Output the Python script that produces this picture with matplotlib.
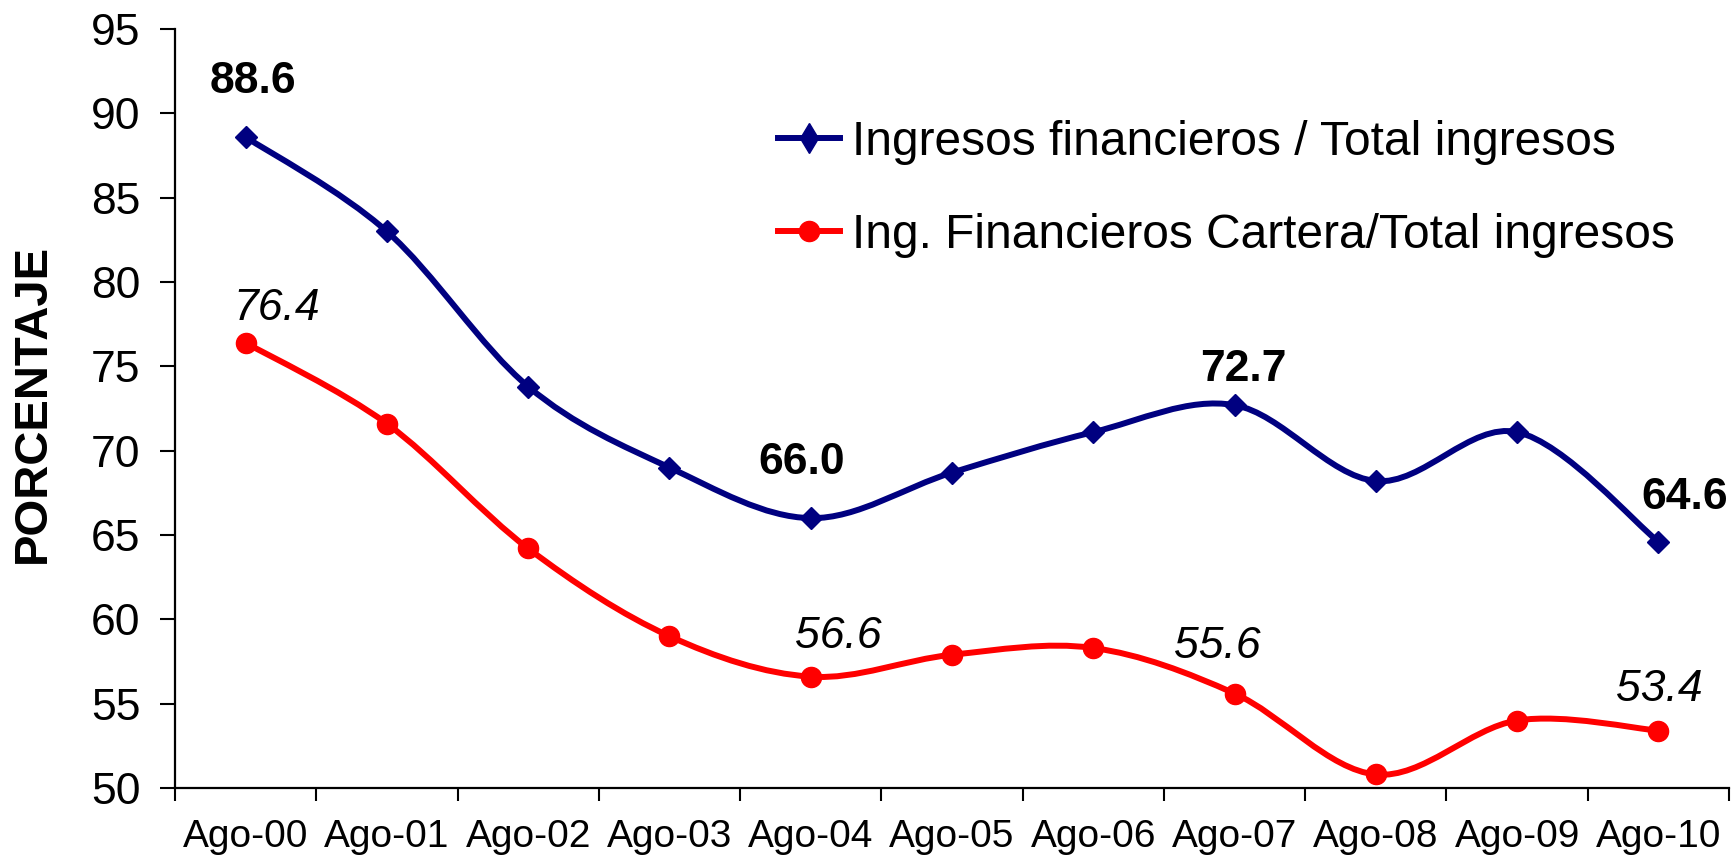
import numpy as np
import matplotlib
matplotlib.use('Agg')
import matplotlib.pyplot as plt
from matplotlib.path import Path
from matplotlib.patches import PathPatch
from matplotlib.lines import Line2D

plt.rcParams['font.family'] = ['Liberation Sans', 'DejaVu Sans']

# Dades llegides del gràfic
fechas = ['Ago-00', 'Ago-01', 'Ago-02', 'Ago-03', 'Ago-04', 'Ago-05',
          'Ago-06', 'Ago-07', 'Ago-08', 'Ago-09', 'Ago-10']
ing_fin = [88.6, 83.0, 73.8, 69.0, 66.0, 68.7, 71.1, 72.7, 68.2, 71.1, 64.6]
ing_cartera = [76.4, 71.6, 64.2, 59.0, 56.6, 57.9, 58.3, 55.6, 50.8, 54.0, 53.4]
nom_fin = 'Ingresos financieros / Total ingresos'
nom_cartera = 'Ing. Financieros Cartera/Total ingresos'
idx_etiquetes = [0, 4, 7, 10]

azul = '#000080'
rojo = '#FF0000'


def curva_suave(y):
    # corba Bezier tipus Excel que passa per tots els punts
    P = np.column_stack([np.arange(len(y)), np.asarray(y, float)])
    n = len(P)
    verts = [P[0]]
    for i in range(n - 1):
        p0 = P[max(i - 1, 0)]
        p1 = P[i]
        p2 = P[i + 1]
        p3 = P[min(i + 2, n - 1)]
        verts += [p1 + (p2 - p0) / 6, p2 - (p3 - p1) / 6, p2]
    codes = [Path.MOVETO] + [Path.CURVE4] * (3 * (n - 1))
    return Path(verts, codes)


fig = plt.figure(figsize=(17.36, 8.64), dpi=100)
ax = fig.add_axes([0.1008, 0.088, 0.8952, 0.8784])

x = np.arange(len(fechas))
ax.add_patch(PathPatch(curva_suave(ing_fin), fill=False, edgecolor=azul, lw=4.3, capstyle='round', joinstyle='round'))
ax.add_patch(PathPatch(curva_suave(ing_cartera), fill=False, edgecolor=rojo, lw=4.3, capstyle='round', joinstyle='round'))
ax.plot(x, ing_fin, ls='none', marker='D', ms=11, color=azul)
ax.plot(x, ing_cartera, ls='none', marker='o', ms=14.5, color=rojo)

# etiquetes de valors (offset en píxels)
off_fin = [(7, 55), (-9, 56), (9, 36), (26, 44)]
off_cartera = [(31, 34), (28, 40), (-17, 47), (1, 41)]
for i, d in zip(idx_etiquetes, off_fin):
    ax.annotate(f'{ing_fin[i]:.1f}', (x[i], ing_fin[i]), xytext=d, textcoords='offset pixels',
                ha='center', va='center', fontsize=32, fontweight='bold', color='black')
for i, d in zip(idx_etiquetes, off_cartera):
    ax.annotate(f'{ing_cartera[i]:.1f}', (x[i], ing_cartera[i]), xytext=d, textcoords='offset pixels',
                ha='center', va='center', fontsize=32, fontstyle='italic', color='black')

ax.set_xlim(-0.5, len(fechas) - 0.5)
ax.set_ylim(50, 95)
ax.set_yticks(np.arange(50, 96, 5))
ax.set_xticks(np.arange(-0.5, len(fechas), 1))
ax.set_xticklabels([])
ax.set_xticks(x, minor=True)
ax.set_xticklabels(fechas, minor=True, fontsize=28)
ax.tick_params(axis='x', which='minor', length=0, pad=22)
ax.tick_params(axis='x', which='major', length=9, width=1.5, direction='out')
ax.tick_params(axis='y', labelsize=32, length=11, width=1.5, pad=14)

for s in ['top', 'right']:
    ax.spines[s].set_visible(False)
for s in ['left', 'bottom']:
    ax.spines[s].set_linewidth(1.6)

fig.text(33 / 1736, 1 - 403 / 864, 'PORCENTAJE', rotation=90, ha='center', va='center',
         fontsize=34, fontweight='bold')

handles = [Line2D([], [], color=azul, lw=4.3, marker='d', ms=15),
           Line2D([], [], color=rojo, lw=4.3, marker='o', ms=14.5)]
fig.legend(handles, [nom_fin, nom_cartera], loc='upper left',
           bbox_to_anchor=(778 / 1736, 1 - 120 / 864), frameon=False,
           fontsize=34.5, handlelength=1.3, handletextpad=0.25,
           labelspacing=1.0, borderpad=0, borderaxespad=0)

fig.savefig('out.png', dpi=100)
